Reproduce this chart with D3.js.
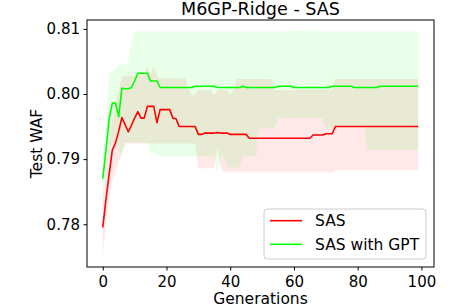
<!DOCTYPE html>
<html>
<head>
<meta charset="utf-8">
<script src="https://cdn.jsdelivr.net/npm/d3@7"></script>
<style>
  body { margin: 0; background: #fff; }
  text { font-family: "DejaVu Sans", sans-serif; fill: #000; }
  .axis line { stroke: #000; }
  .axis text { font-size: 15px; }
</style>
</head>
<body>
<script>
"use strict";

// data ------------------------------------------------------
var series_names = ['SAS', 'SAS with GPT'];
var x_ticks = [0, 20, 40, 60, 80, 100];
var y_ticks = [0.78, 0.79, 0.80, 0.81];

var sas_mean = [
  0.7795, 0.7838, 0.7877, 0.7914, 0.7925, 0.7943, 0.7964, 0.7953, 0.7942, 0.7952,
  0.7963, 0.7973, 0.7963, 0.7963, 0.7981, 0.7981, 0.7981, 0.7956, 0.7976, 0.7976,
  0.7976, 0.7976, 0.7963, 0.7962, 0.7950, 0.7950, 0.7950, 0.7950, 0.7950, 0.7950,
  0.7938, 0.7938, 0.7940, 0.7940, 0.7940, 0.7940, 0.7941, 0.7940, 0.7940, 0.7940,
  0.7938, 0.7938, 0.7938, 0.7938, 0.7938, 0.7938, 0.7932, 0.7932, 0.7932, 0.7932,
  0.7932, 0.7932, 0.7932, 0.7932, 0.7932, 0.7932, 0.7932, 0.7932, 0.7932, 0.7932,
  0.7932, 0.7932, 0.7932, 0.7932, 0.7932, 0.7932, 0.7937, 0.7937, 0.7937, 0.7937,
  0.7939, 0.7939, 0.7939, 0.7950, 0.7950, 0.7950, 0.7950, 0.7950, 0.7950, 0.7950,
  0.7950, 0.7950, 0.7950, 0.7950, 0.7950, 0.7950, 0.7950, 0.7950, 0.7950, 0.7950,
  0.7950, 0.7950, 0.7950, 0.7950, 0.7950, 0.7950, 0.7950, 0.7950, 0.7950, 0.7950
];

var sas_upper = [
  0.7840, 0.7885, 0.7925, 0.7960, 0.7985, 0.8005, 0.8027, 0.8028, 0.8028, 0.8028,
  0.8028, 0.8028, 0.8028, 0.8028, 0.8042, 0.8028, 0.8042, 0.8027, 0.8024, 0.8024,
  0.8024, 0.8024, 0.8024, 0.8024, 0.8024, 0.8024, 0.8024, 0.8006, 0.7998, 0.7998,
  0.8006, 0.8006, 0.8006, 0.8006, 0.8006, 0.7998, 0.8006, 0.8006, 0.8006, 0.8006,
  0.7998, 0.8006, 0.8023, 0.8023, 0.8023, 0.8023, 0.8023, 0.8023, 0.8023, 0.8023,
  0.8023, 0.8023, 0.8023, 0.8023, 0.8006, 0.8006, 0.8006, 0.8006, 0.8006, 0.8006,
  0.8006, 0.8006, 0.8006, 0.8006, 0.8006, 0.8006, 0.8006, 0.8006, 0.8006, 0.8006,
  0.8006, 0.8006, 0.8006, 0.8023, 0.8023, 0.8023, 0.8023, 0.8023, 0.8023, 0.8023,
  0.8023, 0.8023, 0.8023, 0.8023, 0.8023, 0.8023, 0.8023, 0.8023, 0.8023, 0.8023,
  0.8023, 0.8023, 0.8023, 0.8023, 0.8023, 0.8023, 0.8023, 0.8023, 0.8023, 0.8023
];

var sas_lower = [
  0.7752, 0.7800, 0.7838, 0.7868, 0.7880, 0.7895, 0.7910, 0.7924, 0.7924, 0.7924,
  0.7924, 0.7924, 0.7924, 0.7924, 0.7924, 0.7924, 0.7924, 0.7924, 0.7924, 0.7924,
  0.7924, 0.7924, 0.7924, 0.7924, 0.7924, 0.7924, 0.7924, 0.7924, 0.7924, 0.7924,
  0.7886, 0.7886, 0.7886, 0.7886, 0.7886, 0.7886, 0.7919, 0.7886, 0.7880, 0.7880,
  0.7880, 0.7880, 0.7880, 0.7880, 0.7880, 0.7880, 0.7880, 0.7880, 0.7880, 0.7880,
  0.7880, 0.7880, 0.7880, 0.7880, 0.7880, 0.7880, 0.7880, 0.7880, 0.7880, 0.7880,
  0.7880, 0.7880, 0.7880, 0.7880, 0.7880, 0.7880, 0.7880, 0.7880, 0.7880, 0.7880,
  0.7880, 0.7880, 0.7880, 0.7883, 0.7883, 0.7883, 0.7883, 0.7883, 0.7883, 0.7883,
  0.7883, 0.7883, 0.7883, 0.7883, 0.7883, 0.7883, 0.7883, 0.7883, 0.7883, 0.7883,
  0.7883, 0.7883, 0.7883, 0.7883, 0.7883, 0.7883, 0.7883, 0.7883, 0.7883, 0.7883
];

var gpt_mean = [
  0.7870, 0.7914, 0.7962, 0.7986, 0.7986, 0.7965, 0.8009, 0.8008, 0.8008, 0.8010,
  0.8020, 0.8032, 0.8032, 0.8032, 0.8032, 0.8020, 0.8020, 0.8020, 0.8010, 0.8010,
  0.8010, 0.8010, 0.8010, 0.8010, 0.8010, 0.8010, 0.8010, 0.8010, 0.8010, 0.8012,
  0.8012, 0.8012, 0.8012, 0.8012, 0.8012, 0.8012, 0.8010, 0.8010, 0.8010, 0.8010,
  0.8010, 0.8010, 0.8010, 0.8010, 0.8012, 0.8010, 0.8010, 0.8010, 0.8010, 0.8010,
  0.8010, 0.8010, 0.8010, 0.8010, 0.8010, 0.8012, 0.8012, 0.8012, 0.8012, 0.8012,
  0.8010, 0.8010, 0.8010, 0.8010, 0.8010, 0.8010, 0.8010, 0.8010, 0.8010, 0.8010,
  0.8010, 0.8010, 0.8012, 0.8012, 0.8012, 0.8012, 0.8012, 0.8012, 0.8012, 0.8010,
  0.8010, 0.8010, 0.8010, 0.8010, 0.8010, 0.8010, 0.8010, 0.8012, 0.8012, 0.8012,
  0.8012, 0.8012, 0.8012, 0.8012, 0.8012, 0.8012, 0.8012, 0.8012, 0.8012, 0.8012
];

var gpt_upper = [
  0.7905, 0.7940, 0.8032, 0.8034, 0.8040, 0.8044, 0.8048, 0.8045, 0.8048, 0.8080,
  0.8096, 0.8096, 0.8096, 0.8096, 0.8096, 0.8096, 0.8096, 0.8096, 0.8096, 0.8096,
  0.8096, 0.8096, 0.8096, 0.8096, 0.8096, 0.8096, 0.8096, 0.8096, 0.8096, 0.8096,
  0.8096, 0.8096, 0.8096, 0.8096, 0.8096, 0.8096, 0.8096, 0.8096, 0.8096, 0.8096,
  0.8096, 0.8096, 0.8096, 0.8096, 0.8096, 0.8096, 0.8096, 0.8096, 0.8096, 0.8096,
  0.8096, 0.8096, 0.8096, 0.8096, 0.8096, 0.8096, 0.8096, 0.8096, 0.8096, 0.8097,
  0.8097, 0.8097, 0.8097, 0.8097, 0.8097, 0.8097, 0.8097, 0.8096, 0.8096, 0.8096,
  0.8096, 0.8096, 0.8096, 0.8096, 0.8096, 0.8096, 0.8096, 0.8096, 0.8096, 0.8096,
  0.8096, 0.8096, 0.8096, 0.8096, 0.8096, 0.8096, 0.8096, 0.8096, 0.8096, 0.8096,
  0.8096, 0.8096, 0.8096, 0.8096, 0.8096, 0.8096, 0.8096, 0.8096, 0.8096, 0.8096
];

var gpt_lower = [
  0.7835, 0.7880, 0.7915, 0.7925, 0.7925, 0.7915, 0.7905, 0.7925, 0.7925, 0.7925,
  0.7925, 0.7925, 0.7925, 0.7925, 0.7925, 0.7909, 0.7909, 0.7909, 0.7904, 0.7904,
  0.7904, 0.7904, 0.7904, 0.7904, 0.7904, 0.7904, 0.7904, 0.7904, 0.7904, 0.7904,
  0.7904, 0.7904, 0.7904, 0.7904, 0.7904, 0.7904, 0.7878, 0.7904, 0.7904, 0.7887,
  0.7887, 0.7887, 0.7887, 0.7887, 0.7904, 0.7904, 0.7904, 0.7904, 0.7904, 0.7947,
  0.7947, 0.7947, 0.7947, 0.7947, 0.7947, 0.7963, 0.7963, 0.7963, 0.7963, 0.7963,
  0.7963, 0.7963, 0.7963, 0.7963, 0.7963, 0.7963, 0.7963, 0.7963, 0.7963, 0.7963,
  0.7947, 0.7947, 0.7947, 0.7950, 0.7950, 0.7950, 0.7950, 0.7950, 0.7950, 0.7950,
  0.7950, 0.7950, 0.7950, 0.7914, 0.7914, 0.7914, 0.7914, 0.7914, 0.7914, 0.7914,
  0.7914, 0.7914, 0.7914, 0.7914, 0.7914, 0.7914, 0.7914, 0.7914, 0.7914, 0.7914
];

var generations = d3.range(sas_mean.length);

function draw() {
  var width = 454,
    height = 307,
    plot = {left: 87, right: 434, top: 20, bottom: 267},
    colors = ['#ff0000', '#00ff00'];

  var svg = d3.select('body').append('svg')
    .attr('width', width)
    .attr('height', height);

  // scales ---------------------------------------------------
  // matplotlib style 5% margins around 0..99
  var pad = (generations.length - 1) * 0.05;
  var x = d3.scaleLinear()
    .domain([-pad, generations.length - 1 + pad])
    .range([plot.left, plot.right]);

  var y = d3.scaleLinear()
    .domain([0.77343, 0.81137])
    .range([plot.bottom, plot.top]);

  var series = [
    {name: series_names[0], mean: sas_mean, lo: sas_lower, hi: sas_upper, color: colors[0]},
    {name: series_names[1], mean: gpt_mean, lo: gpt_lower, hi: gpt_upper, color: colors[1]}
  ];

  // bands first, lines on top
  var area = function(s) {
    return d3.area()
      .x(d => x(d))
      .y0(d => y(s.lo[d]))
      .y1(d => y(s.hi[d]))(generations);
  };

  var line = function(s) {
    return d3.line()
      .x(d => x(d))
      .y(d => y(s.mean[d]))(generations);
  };

  svg.append('g').selectAll('path')
    .data(series)
    .enter().append('path')
      .attr('d', d => area(d))
      .attr('fill', d => d.color)
      .attr('fill-opacity', 0.09)
      .attr('stroke', 'none');

  svg.append('g').selectAll('path')
    .data(series)
    .enter().append('path')
      .attr('d', d => line(d))
      .attr('fill', 'none')
      .attr('stroke', d => d.color)
      .attr('stroke-width', 1.6)
      .attr('stroke-linejoin', 'round');

  // axes -----------------------------------------------------
  var axis_x = d3.axisBottom(x)
    .tickValues(x_ticks)
    .tickFormat(d3.format('d'))
    .tickSize(3.5)
    .tickPadding(5.5);

  svg.append('g')
    .attr('class', 'axis')
    .attr('transform', `translate(0, ${plot.bottom})`)
    .call(axis_x)
    .call(g => g.select('.domain').remove());

  var axis_y = d3.axisLeft(y)
    .tickValues(y_ticks)
    .tickFormat(d3.format('.2f'))
    .tickSize(3.5)
    .tickPadding(3.5);

  svg.append('g')
    .attr('class', 'axis')
    .attr('transform', `translate(${plot.left}, 0)`)
    .call(axis_y)
    .call(g => g.select('.domain').remove());

  svg.selectAll('.axis text').attr('font-family', null).attr('font-size', null);

  // frame
  svg.append('rect')
    .attr('x', plot.left)
    .attr('y', plot.top)
    .attr('width', plot.right - plot.left)
    .attr('height', plot.bottom - plot.top)
    .attr('fill', 'none')
    .attr('stroke', '#000')
    .attr('stroke-width', 1);

  // titles ---------------------------------------------------
  var cx = (plot.left + plot.right) / 2;

  svg.append('text')
    .attr('x', cx)
    .attr('y', 15)
    .attr('text-anchor', 'middle')
    .style('font-size', '17.6px')
    .text('M6GP-Ridge - SAS');

  svg.append('text')
    .attr('x', cx)
    .attr('y', 303.5)
    .attr('text-anchor', 'middle')
    .style('font-size', '15.5px')
    .text('Generations');

  svg.append('text')
    .attr('transform', `translate(42, ${(plot.top + plot.bottom) / 2}) rotate(-90)`)
    .attr('text-anchor', 'middle')
    .style('font-size', '15.5px')
    .text('Test WAF');

  // legend ---------------------------------------------------
  var legend = svg.append('g')
    .attr('transform', 'translate(264, 209)');

  legend.append('rect')
    .attr('width', 162)
    .attr('height', 50)
    .attr('rx', 3)
    .attr('fill', '#fff')
    .attr('fill-opacity', 0.8)
    .attr('stroke', '#cccccc')
    .attr('stroke-width', 1);

  var item = legend.selectAll('.item')
    .data(series)
    .enter().append('g')
      .attr('class', 'item')
      .attr('transform', (d, i) => `translate(0, ${11.7 + i * 23.6})`);

  item.append('line')
    .attr('x1', 6)
    .attr('x2', 38)
    .attr('stroke', d => d.color)
    .attr('stroke-width', 1.6);

  item.append('text')
    .attr('x', 51)
    .attr('dy', '0.36em')
    .style('font-size', '15.5px')
    .text(d => d.name);
}

draw();
</script>
</body>
</html>
